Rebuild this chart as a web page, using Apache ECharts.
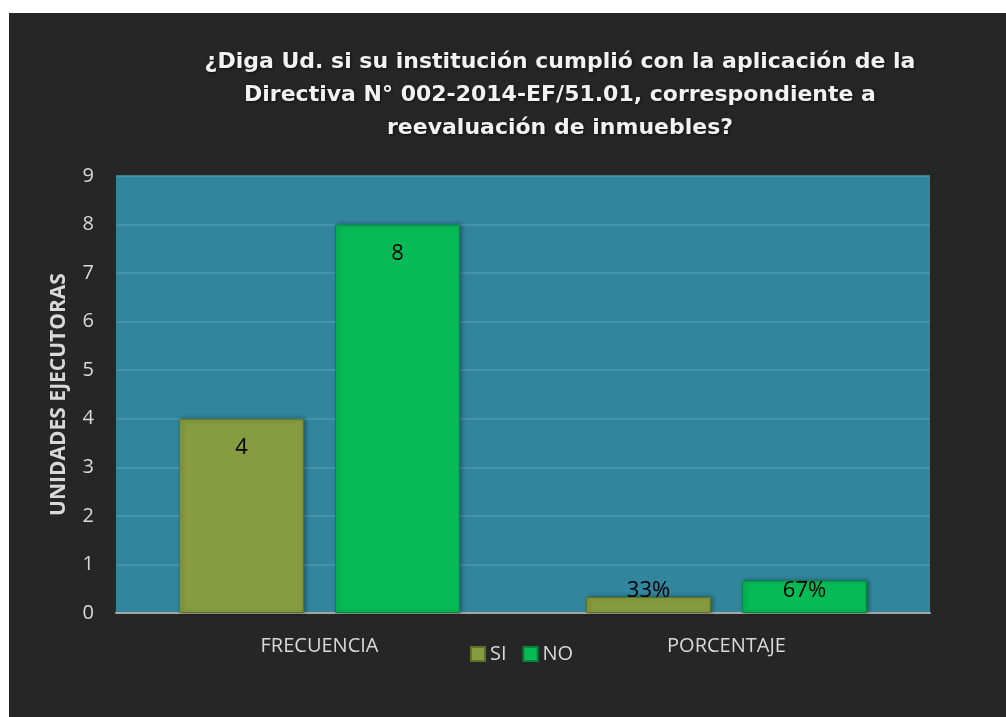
<!DOCTYPE html>
<html>
<head>
<meta charset="utf-8">
<script src="https://cdn.jsdelivr.net/npm/echarts@6/dist/echarts.min.js"></script>
<style>
  html, body { margin: 0; padding: 0; background: #ffffff; }
  #wrap {
    position: absolute;
    left: 9px;
    top: 13px;
    width: 997px;
    height: 704px;
    background: #262626;
  }
  #chart { width: 997px; height: 704px; }
</style>
</head>
<body>
<div id="wrap"><div id="chart"></div></div>
<script>
// datos
const categorias = ['FRECUENCIA', 'PORCENTAJE']
const valoresSi = [4, 0.33]
const valoresNo = [8, 0.67]
const etiquetasSi = ['4', '33%']
const etiquetasNo = ['8', '67%']
const ticksY = [0, 1, 2, 3, 4, 5, 6, 7, 8, 9]

const titulo = '¿Diga Ud. si su institución cumplió con la aplicación de la\nDirectiva N° 002-2014-EF/51.01, correspondiente a\nreevaluación de inmuebles?'

// etiqueta dentro arriba para frecuencia, abajo para porcentaje
const armarDatos = (valores, etiquetas) => valores.map((v, i) => ({
  value: v,
  label: i === 0
    ? { position: 'insideTop', distance: 18, formatter: etiquetas[i] }
    : { position: 'insideBottom', distance: 11, formatter: etiquetas[i] }
}))

const chart = echarts.init(document.getElementById('chart'))

chart.setOption({
  backgroundColor: '#262626',
  animation: false,
  title: {
    text: titulo,
    left: 546,
    top: 28,
    textAlign: 'center',
    textStyle: {
      color: '#f2f2f2',
      fontFamily: 'DejaVu Sans',
      fontSize: 22,
      fontWeight: 'bold',
      lineHeight: 33,
      textShadowColor: 'rgba(0, 0, 0, 0.6)',
      textShadowBlur: 3,
      textShadowOffsetX: 1,
      textShadowOffsetY: 1
    }
  },
  legend: {
    left: 456,
    top: 626,
    itemWidth: 14,
    itemHeight: 14,
    itemGap: 16,
    icon: 'rect',
    textStyle: {
      color: '#d9d9d9',
      fontFamily: 'Open Sans',
      fontSize: 20
    },
    data: ['SI', 'NO']
  },
  grid: {
    left: 107,
    right: 76,
    top: 163,
    bottom: 104,
    show: true,
    backgroundColor: '#31859c',
    borderWidth: 0
  },
  xAxis: {
    type: 'category',
    data: categorias,
    axisTick: { show: false },
    axisLine: { lineStyle: { color: '#a6a6a6', width: 2 } },
    axisLabel: {
      color: '#d9d9d9',
      fontFamily: 'Open Sans',
      fontSize: 20,
      margin: 23
    }
  },
  yAxis: {
    type: 'value',
    min: ticksY[0],
    max: ticksY[ticksY.length - 1],
    interval: 1,
    name: 'UNIDADES EJECUTORAS',
    nameLocation: 'middle',
    nameGap: 46,
    nameTextStyle: {
      color: '#d9d9d9',
      fontFamily: 'Open Sans',
      fontSize: 21,
      fontWeight: 'bold'
    },
    axisLine: { show: false },
    axisTick: { show: false },
    axisLabel: {
      color: '#d9d9d9',
      fontFamily: 'Open Sans',
      fontSize: 20,
      margin: 22
    },
    splitLine: { lineStyle: { color: '#4c9aae', width: 1.5 } }
  },
  series: [
    {
      name: 'SI',
      type: 'bar',
      barCategoryGap: '31%',
      barGap: '25%',
      data: armarDatos(valoresSi, etiquetasSi),
      itemStyle: {
        color: '#879c40',
        borderColor: '#5f7128',
        borderWidth: 1,
        shadowColor: 'rgba(0, 0, 0, 0.35)',
        shadowBlur: 4,
        shadowOffsetX: 2
      },
      label: {
        show: true,
        color: '#000000',
        fontFamily: 'Open Sans',
        fontSize: 22
      }
    },
    {
      name: 'NO',
      type: 'bar',
      data: armarDatos(valoresNo, etiquetasNo),
      itemStyle: {
        color: '#06bb56',
        borderColor: '#04873d',
        borderWidth: 1,
        shadowColor: 'rgba(0, 0, 0, 0.35)',
        shadowBlur: 4,
        shadowOffsetX: 2
      },
      label: {
        show: true,
        color: '#000000',
        fontFamily: 'Open Sans',
        fontSize: 22
      }
    }
  ]
})
</script>
</body>
</html>
